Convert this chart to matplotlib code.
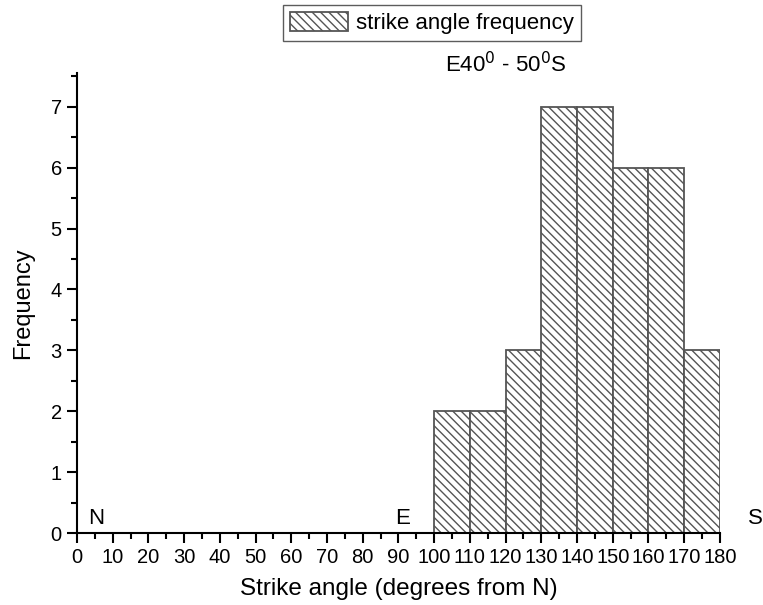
import numpy as np
import matplotlib.pyplot as plt
from matplotlib.ticker import MultipleLocator

plt.rcParams['font.family'] = ['Liberation Sans', 'DejaVu Sans']
plt.rcParams['hatch.color'] = '#6a6a6a'
plt.rcParams['hatch.linewidth'] = 1.0

bin_left = np.array([100, 110, 120, 130, 140, 150, 160, 170])
freq = np.array([2, 2, 3, 7, 7, 6, 6, 3])
bin_width = 10

fig = plt.figure(figsize=(7.63, 6.05), dpi=100)
ax = fig.add_axes([0.101, 0.119, 0.8425, 0.760])

ax.bar(bin_left, freq, width=bin_width, align='edge', color='white',
       edgecolor='#555555', linewidth=1.3, hatch='\\\\\\\\',
       label='strike angle frequency')

ax.set_xlim(0, 180)
ax.set_ylim(0, 7.55)
ax.spines['top'].set_visible(False)
ax.spines['right'].set_visible(False)
ax.spines['left'].set_linewidth(1.5)
ax.spines['bottom'].set_linewidth(1.5)
ax.xaxis.set_major_locator(MultipleLocator(10))
ax.xaxis.set_minor_locator(MultipleLocator(5))
ax.yaxis.set_major_locator(MultipleLocator(1))
ax.yaxis.set_minor_locator(MultipleLocator(0.5))
ax.tick_params(which='major', direction='out', length=7, width=1.5, labelsize=14.5, pad=4)
ax.tick_params(which='minor', direction='out', length=4, width=1.5)
ax.set_xlabel('Strike angle (degrees from N)', fontsize=17.5, labelpad=8)
ax.set_ylabel('Frequency', fontsize=17, labelpad=12)

ax.text(3, 0.15, 'N', fontsize=16)
ax.text(89, 0.15, 'E', fontsize=16)
ax.text(188, 0.15, 'S', fontsize=16, clip_on=False)
fig.text(0.583, 0.893, r'E40$^0$ - 50$^0$S', fontsize=16, va='center')

leg = ax.legend(loc='upper left', bbox_to_anchor=(0.371, 0.992),
                bbox_transform=fig.transFigure, fontsize=16,
                frameon=True, fancybox=False, edgecolor='#333333',
                handlelength=2.6, handleheight=1.0, borderpad=0.3,
                handletextpad=0.4, borderaxespad=0)
leg.get_frame().set_linewidth(1.0)

fig.savefig('out.png', dpi=100)
